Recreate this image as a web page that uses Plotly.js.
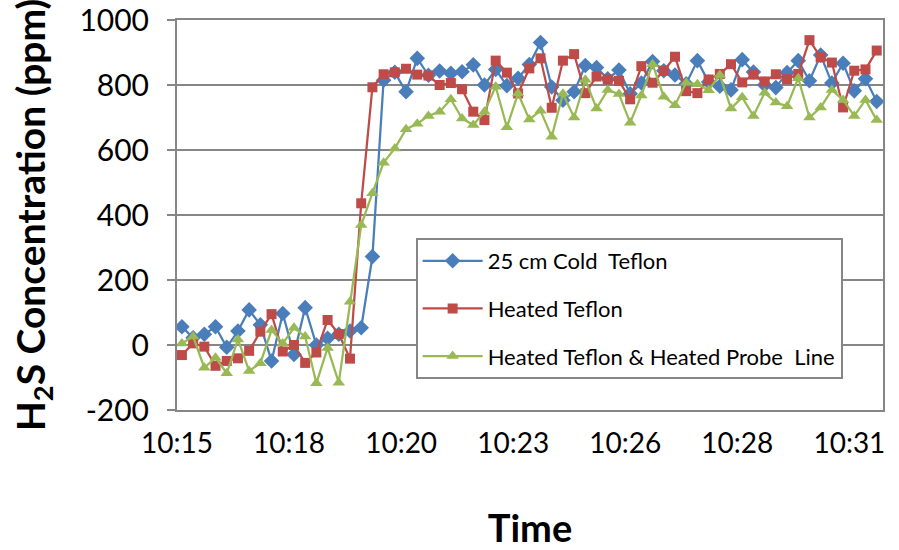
<!DOCTYPE html>
<html>
<head>
<meta charset="utf-8">
<script src="https://cdn.plot.ly/plotly-3.0.1.min.js"></script>
<style>html,body{margin:0;padding:0;background:#fff;}#chart{width:899px;height:550px;}</style>
</head>
<body>
<div id="chart"></div>
<script>
// Sample times (hh:mm:ss)
const times = ["10:15:07","10:15:23","10:15:39","10:15:55","10:16:11","10:16:27","10:16:43","10:16:59","10:17:15","10:17:31",
"10:17:47","10:18:03","10:18:19","10:18:35","10:18:51","10:19:07","10:19:23","10:19:39","10:19:55","10:20:11",
"10:20:27","10:20:43","10:20:59","10:21:15","10:21:31","10:21:47","10:22:03","10:22:19","10:22:35","10:22:51",
"10:23:07","10:23:23","10:23:39","10:23:55","10:24:11","10:24:27","10:24:43","10:24:59","10:25:15","10:25:31",
"10:25:47","10:26:03","10:26:19","10:26:35","10:26:51","10:27:07","10:27:23","10:27:39","10:27:55","10:28:11",
"10:28:27","10:28:43","10:28:59","10:29:15","10:29:31","10:29:47","10:30:03","10:30:19","10:30:35","10:30:51",
"10:31:07","10:31:23","10:31:39"];

// 25 cm Cold Teflon
const coldTeflon = [56,22,33,56,-7,43,108,62,-49,97,
-29,115,0,21,33,43,53,272,815,839,
779,882,830,843,836,841,862,800,848,798,
821,863,931,794,753,779,860,854,819,846,
773,806,872,844,831,804,875,809,796,785,
878,840,800,792,838,875,813,892,806,867,
782,819,749];

// Heated Teflon
const heatedTeflon = [-31,5,-5,-64,-49,-41,-18,41,95,-20,
0,-55,-23,77,34,-42,436,793,833,839,
850,832,829,800,806,787,718,692,875,838,
774,851,882,730,875,895,775,826,817,813,
756,858,807,844,887,781,775,817,834,864,
808,832,811,833,818,834,938,885,869,731,
844,848,906];

// Heated Teflon & Heated Probe Line
const heatedProbe = [5,26,-70,-39,-87,17,-80,-56,46,5,
53,26,-118,-9,-116,133,369,467,561,605,
664,681,705,718,756,697,677,718,795,670,
774,694,721,641,773,700,816,728,785,772,
684,768,864,764,738,807,802,784,831,728,
762,705,776,746,735,821,700,731,785,754,
705,754,692];

const seriesNames = ["25 cm Cold  Teflon", "Heated Teflon", "Heated Teflon & Heated Probe  Line"];

const tickTimes = ["10:15:00","10:17:40","10:20:20","10:23:00","10:25:40","10:28:20","10:31:00"];
const tickLabels = ["10:15","10:18","10:20","10:23","10:26","10:28","10:31"];
const yTicks = [-200,0,200,400,600,800,1000];
const yTickLabels = ["-200","0","200","400","600","800","1000"];

const day = "2013-01-01 ";
const xs = times.map(t => day + t);

const FONT = "Lato, 'Liberation Sans', sans-serif";
const mk = (name, y, color, symbol, size, grp) => ({
  type: "scatter", mode: "lines+markers", name: name, x: xs, y: y,
  legendgroup: grp,
  line: {color: color, width: 2.25},
  marker: {color: color, symbol: symbol, size: size, line: {width: 0}}
});

const data = [
  mk(seriesNames[0], coldTeflon, "#4A7EBB", "diamond", 12, "a"),
  mk(seriesNames[1], heatedTeflon, "#BE4B48", "square", 10, "b"),
  mk(seriesNames[2], heatedProbe, "#98B954", "triangle-up", 11, "c")
];

const layout = {
  width: 899, height: 550,
  margin: {l: 177, r: 16, t: 20, b: 140},
  paper_bgcolor: "#fff", plot_bgcolor: "#fff",
  font: {family: FONT, color: "#000"},
  showlegend: true,
  legend: {
    x: 0.338, y: 0.441, xanchor: "left", yanchor: "top",
    bgcolor: "#fff", bordercolor: "#868686", borderwidth: 2,
    font: {family: FONT, size: 22, color: "#000"},
    tracegroupgap: 16, itemwidth: 60
  },
  xaxis: {
    type: "date",
    range: [day + "10:15:00", day + "10:31:48"],
    tickmode: "array",
    tickvals: tickTimes.map(t => day + t),
    ticktext: tickLabels,
    tickfont: {family: FONT, size: 28, color: "#000"},
    showgrid: false, zeroline: false,
    showline: true, linecolor: "#868686", linewidth: 2, mirror: true,
    ticks: "", ticklabelstandoff: 7,
    title: {text: "<b>Time</b>", font: {family: FONT, size: 38, color: "#000"}, standoff: 63}
  },
  yaxis: {
    range: [-200, 1000],
    tickmode: "array", tickvals: yTicks, ticktext: yTickLabels,
    tickfont: {family: FONT, size: 30, color: "#000"},
    showgrid: true, gridcolor: "#868686", gridwidth: 2,
    zeroline: false,
    showline: true, linecolor: "#868686", linewidth: 2, mirror: true,
    ticks: "outside", ticklen: 8, tickcolor: "#868686", tickwidth: 2,
    ticklabelstandoff: 12,
    title: {text: "<b>H<sub>2</sub>S Concentration (ppm)</b>", font: {family: FONT, size: 39, color: "#000"}, standoff: 22}
  }
};

Plotly.newPlot("chart", data, layout, {staticPlot: true, displayModeBar: false});
</script>
</body>
</html>
